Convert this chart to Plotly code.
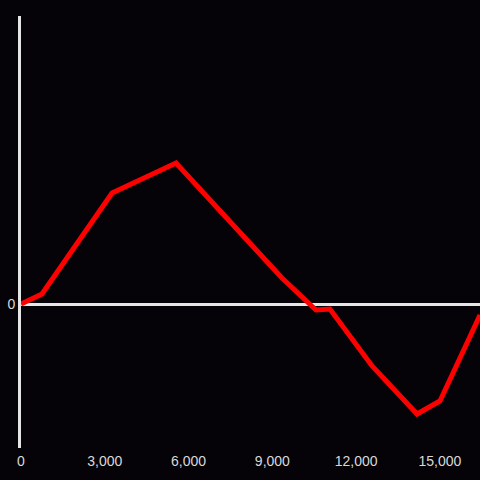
import plotly.graph_objects as go

x_vals = [0, 750, 3260, 5550, 8090, 9345, 10560, 11060, 12570, 14180, 15000, 16434]
y_vals = [0, 10, 111, 141, 64, 26, -6, -5, -62, -110, -97, -11]
x_ticks = [0, 3000, 6000, 9000, 12000, 15000]
x_tick_text = ["0", "3,000", "6,000", "9,000", "12,000", "15,000"]

fig = go.Figure()
fig.add_trace(go.Scatter(x=x_vals, y=y_vals, mode="lines",
                         line=dict(color="#ff0000", width=5)))

fig.update_layout(
    width=480, height=480,
    margin=dict(l=21, r=0, t=16, b=32),
    paper_bgcolor="#050307", plot_bgcolor="#050307",
    showlegend=False,
    font=dict(family="Liberation Sans, Arial, sans-serif", size=14, color="#d9d9d9"),
    xaxis=dict(range=[0, 16434], tickvals=x_ticks, ticktext=x_tick_text,
               showgrid=False, zeroline=False, showline=False, ticks="",
               ticklen=0, ticklabelstandoff=3),
    yaxis=dict(range=[-144, 288], tickvals=[0], ticktext=["0"],
               showgrid=False, zeroline=True, zerolinecolor="#e6e6e6", zerolinewidth=3,
               showline=True, linecolor="#e6e6e6", linewidth=3, ticks="", ticklen=0),
)

fig.write_html("out.html", config={"displayModeBar": False},
               post_script="document.body.style.margin='0';document.body.style.background='#050307';")
